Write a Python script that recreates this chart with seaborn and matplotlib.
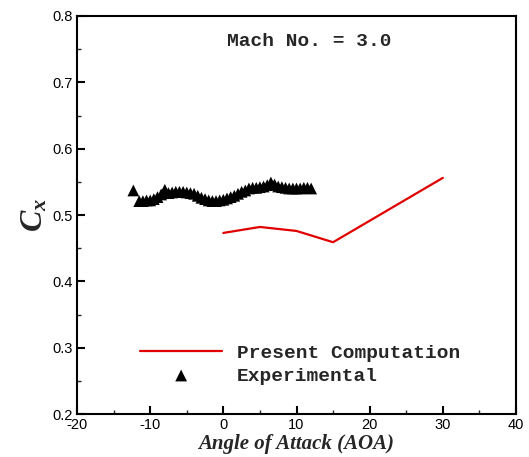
import matplotlib
matplotlib.use("Agg")
import matplotlib.pyplot as plt
from matplotlib.ticker import MultipleLocator
import numpy as np
import pandas as pd
import seaborn as sns

# Present computation (CFD) of axial force coefficient
aoa_comp = [0, 5, 10, 15, 30]
cx_comp = [0.473, 0.482, 0.476, 0.459, 0.556]

# Wind-tunnel measurements
aoa_exp = [-12.3, -11.5, -11.0, -10.5, -10.0, -9.5, -9.0, -8.5, -8.0, -7.5,
           -7.0, -6.5, -6.0, -5.5, -5.0, -4.5, -4.0, -3.5, -3.0, -2.5,
           -2.0, -1.5, -1.0, -0.5, 0.0, 0.5, 1.0, 1.5, 2.0, 2.5,
           3.0, 3.5, 4.0, 4.5, 5.0, 5.5, 6.0, 6.5, 7.0, 7.5,
           8.0, 8.5, 9.0, 9.5, 10.0, 10.5, 11.0, 11.5, 12.0]
cx_exp = [0.537, 0.521, 0.521, 0.522, 0.522, 0.524, 0.527, 0.531, 0.538, 0.533,
          0.534, 0.535, 0.535, 0.535, 0.534, 0.533, 0.532, 0.529, 0.526, 0.524,
          0.522, 0.521, 0.521, 0.522, 0.523, 0.525, 0.527, 0.529, 0.532, 0.535,
          0.537, 0.540, 0.541, 0.541, 0.542, 0.543, 0.545, 0.549, 0.546, 0.543,
          0.542, 0.541, 0.540, 0.540, 0.540, 0.540, 0.541, 0.541, 0.540]

x_ticks = [-20, -10, 0, 10, 20, 30, 40]
y_ticks = [0.2, 0.3, 0.4, 0.5, 0.6, 0.7, 0.8]

comp = pd.DataFrame({"aoa": aoa_comp, "cx": cx_comp})
exp = pd.DataFrame({"aoa": aoa_exp, "cx": cx_exp})

sns.set_theme(style="ticks")
plt.rcParams["font.family"] = ["Liberation Sans", "DejaVu Sans"]
plt.rcParams["mathtext.fontset"] = "custom"
plt.rcParams["mathtext.rm"] = "Liberation Serif:bold"
plt.rcParams["mathtext.it"] = "Liberation Serif:bold:italic"

fig = plt.figure(figsize=(5.29, 4.57), dpi=100)
ax = fig.add_axes([0.1456, 0.094, 0.8298, 0.871])

sns.lineplot(data=comp, x="aoa", y="cx", ax=ax, color="#e00000", linewidth=1.6,
             label="Present Computation", sort=False)
sns.scatterplot(data=exp, x="aoa", y="cx", ax=ax, marker="^", color="black",
                s=72, edgecolor="none", label="Experimental", zorder=3)

ax.set_xlim(-20, 40)
ax.set_ylim(0.2, 0.8)
ax.set_xticks(x_ticks)
ax.set_yticks(y_ticks)
ax.set_xticklabels([str(v) for v in x_ticks])
ax.set_yticklabels([f"{v:.1f}" for v in y_ticks])
ax.xaxis.set_minor_locator(MultipleLocator(5))
ax.yaxis.set_minor_locator(MultipleLocator(0.05))

for side in ["left", "bottom", "top", "right"]:
    ax.spines[side].set_linewidth(1.5)
    ax.spines[side].set_color("black")
    ax.spines[side].set_visible(True)

ax.tick_params(which="major", direction="in", length=6, width=1.5,
               labelsize=10.5, pad=3, colors="black", top=False, right=False)
ax.tick_params(which="minor", direction="in", length=3, width=1.0,
               top=False, right=False)

ax.set_xlabel("Angle of Attack (AOA)", family="Liberation Serif",
              fontweight="bold", fontstyle="italic", fontsize=15, labelpad=1)
ax.set_ylabel(r"$C_x$", fontsize=23, labelpad=2)

ax.text(0.528, 0.937, "Mach No. = 3.0", transform=ax.transAxes,
        family="Liberation Mono", fontweight="bold", fontsize=14,
        ha="center", va="center")

leg = ax.legend(loc="lower left", bbox_to_anchor=(0.122, 0.0495), frameon=False,
                prop={"family": "Liberation Mono", "weight": "bold", "size": 14},
                handlelength=4.2, handletextpad=0.75, labelspacing=0.27,
                borderpad=0, markerscale=1.0, scatterpoints=1)

fig.savefig("out.png", dpi=100)
